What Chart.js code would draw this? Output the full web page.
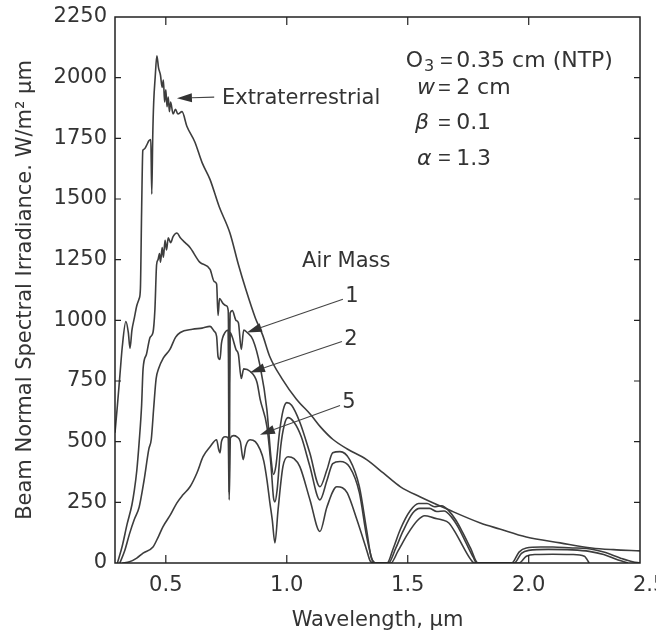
<!DOCTYPE html>
<html>
<head>
<meta charset="utf-8">
<script src="https://cdn.jsdelivr.net/npm/chart.js@4.4.1/dist/chart.umd.min.js"></script>
<style>
  html, body { margin: 0; padding: 0; background: #fff; }
  #wrap { width: 656px; height: 634px; }
</style>
</head>
<body>
<div id="wrap"><canvas id="spectrumChart" width="656" height="634"></canvas></div>
<script>
// Beam normal spectral irradiance, [wavelength um, W/m2 um]
const extraterrestrial = [
  [0.29, 537], [0.30, 650], [0.31, 770], [0.32, 890], [0.335, 995], [0.345, 950], [0.352, 885],
  [0.36, 960], [0.37, 1010], [0.38, 1060], [0.39, 1090], [0.395, 1130], [0.40, 1450], [0.405, 1700],
  [0.41, 1705], [0.42, 1720], [0.43, 1740], [0.438, 1745], [0.442, 1520], [0.446, 1760], [0.45, 1900],
  [0.456, 2000], [0.463, 2090], [0.47, 2040], [0.478, 2010], [0.485, 1960], [0.49, 1990], [0.495, 1900],
  [0.50, 1950], [0.505, 1880], [0.51, 1920], [0.515, 1860], [0.52, 1900], [0.53, 1850], [0.54, 1870],
  [0.55, 1850], [0.567, 1860], [0.587, 1800], [0.62, 1735], [0.65, 1650], [0.683, 1580], [0.72, 1470],
  [0.765, 1360], [0.80, 1230], [0.83, 1130], [0.87, 1010], [0.90, 940], [0.93, 850], [0.98, 760],
  [1.04, 675], [1.10, 610], [1.14, 560], [1.19, 510], [1.25, 470], [1.33, 426], [1.40, 370],
  [1.47, 314], [1.55, 273], [1.67, 219], [1.80, 165], [1.88, 140], [1.99, 107], [2.13, 83],
  [2.26, 62], [2.35, 55], [2.46, 50]
];

const airMass1 = [
  [0.30, 0], [0.32, 70], [0.34, 160], [0.36, 240], [0.37, 300], [0.38, 380], [0.39, 500], [0.40, 650],
  [0.406, 800], [0.42, 860], [0.435, 930], [0.447, 950], [0.455, 1045], [0.462, 1230], [0.468, 1250],
  [0.474, 1275], [0.478, 1240], [0.485, 1300], [0.49, 1260], [0.497, 1330], [0.503, 1290], [0.51, 1340],
  [0.52, 1320], [0.53, 1345], [0.546, 1360], [0.56, 1340], [0.58, 1320], [0.60, 1300], [0.64, 1240],
  [0.683, 1210], [0.70, 1160], [0.71, 1150], [0.716, 1020], [0.722, 1090], [0.736, 1070], [0.75, 1060],
  [0.758, 1040], [0.762, 700], [0.766, 1030], [0.775, 1040], [0.79, 1000], [0.80, 990], [0.812, 880],
  [0.822, 960], [0.836, 950], [0.86, 920], [0.89, 810], [0.918, 630], [0.935, 430], [0.945, 365],
  [0.955, 400], [0.97, 540], [0.985, 630], [1.00, 661], [1.02, 650], [1.054, 580], [1.095, 454],
  [1.137, 314], [1.166, 384], [1.19, 454], [1.22, 459], [1.26, 426], [1.30, 314], [1.33, 136],
  [1.35, 20], [1.37, 0], [1.415, 0], [1.44, 60], [1.47, 140], [1.51, 215], [1.545, 245], [1.58, 245],
  [1.61, 232], [1.64, 236], [1.67, 215], [1.70, 175], [1.73, 120], [1.76, 60], [1.79, 0], [1.93, 0],
  [1.96, 45], [1.99, 62], [2.05, 66], [2.10, 66], [2.18, 62], [2.24, 60], [2.31, 45], [2.38, 20],
  [2.43, 5], [2.46, 0]
];

const airMass2 = [
  [0.31, 0], [0.33, 50], [0.35, 120], [0.37, 180], [0.39, 231], [0.41, 340], [0.43, 470], [0.44, 510],
  [0.45, 640], [0.46, 760], [0.47, 800], [0.49, 845], [0.517, 880], [0.54, 930], [0.56, 950],
  [0.61, 963], [0.65, 968], [0.683, 975], [0.70, 955], [0.71, 934], [0.716, 850], [0.724, 839],
  [0.73, 905], [0.745, 950], [0.758, 960], [0.762, 290], [0.766, 950], [0.775, 930], [0.79, 880],
  [0.80, 860], [0.812, 760], [0.822, 800], [0.848, 790], [0.877, 744], [0.89, 674], [0.918, 562],
  [0.935, 400], [0.945, 270], [0.951, 252], [0.96, 300], [0.975, 480], [0.99, 570], [1.005, 599],
  [1.03, 580], [1.06, 520], [1.095, 400], [1.137, 260], [1.166, 340], [1.19, 410], [1.22, 418],
  [1.26, 395], [1.30, 290], [1.33, 110], [1.355, 10], [1.37, 0], [1.42, 0], [1.45, 60], [1.48, 130],
  [1.52, 205], [1.55, 225], [1.59, 225], [1.62, 212], [1.65, 214], [1.68, 190], [1.71, 145],
  [1.74, 85], [1.77, 25], [1.785, 0], [1.94, 0], [1.97, 40], [2.00, 52], [2.08, 56], [2.18, 54],
  [2.25, 48], [2.31, 35], [2.37, 12], [2.41, 0]
];

const airMass5 = [
  [0.32, 0], [0.35, 5], [0.38, 20], [0.406, 41], [0.447, 66], [0.47, 110], [0.488, 149], [0.52, 200],
  [0.546, 248], [0.57, 280], [0.60, 314], [0.629, 372], [0.654, 438], [0.683, 479], [0.71, 508],
  [0.718, 470], [0.724, 454], [0.73, 500], [0.745, 520], [0.758, 515], [0.762, 260], [0.767, 515],
  [0.78, 525], [0.794, 520], [0.808, 500], [0.82, 426], [0.83, 480], [0.848, 508], [0.87, 500],
  [0.89, 467], [0.905, 420], [0.918, 343], [0.93, 250], [0.94, 178], [0.951, 83], [0.964, 219],
  [0.984, 397], [1.005, 438], [1.03, 430], [1.054, 397], [1.096, 260], [1.137, 130], [1.166, 231],
  [1.207, 314], [1.23, 310], [1.25, 289], [1.29, 178], [1.33, 54], [1.344, 10], [1.36, 0], [1.43, 0],
  [1.46, 50], [1.50, 120], [1.54, 175], [1.57, 195], [1.61, 185], [1.64, 178], [1.67, 165],
  [1.70, 120], [1.73, 65], [1.76, 15], [1.775, 0], [1.96, 0], [1.99, 28], [2.03, 35], [2.10, 36],
  [2.18, 35], [2.23, 28], [2.25, 0]
];

const xTickValues = [0.5, 1.0, 1.5, 2.0, 2.5];
const curveColor = "#3d3d3d";
const textColor = "#333";
const fontFamily = "'DejaVu Sans', sans-serif";

function toXY(points) {
  return points.map(([x, y]) => ({ x, y }));
}

function curve(label, points) {
  return {
    label,
    data: toXY(points),
    borderColor: curveColor,
    borderWidth: 1.6,
    pointRadius: 0,
    fill: false,
    cubicInterpolationMode: "monotone",
  };
}

// arrow with a filled head, tail -> tip
function drawArrow(ctx, x1, y1, x2, y2) {
  const ang = Math.atan2(y2 - y1, x2 - x1);
  const head = 15, half = 4.5;
  const bx = x2 - head * Math.cos(ang), by = y2 - head * Math.sin(ang);
  ctx.beginPath();
  ctx.moveTo(x1, y1);
  ctx.lineTo(bx, by);
  ctx.stroke();
  ctx.beginPath();
  ctx.moveTo(x2, y2);
  ctx.lineTo(bx + half * Math.sin(ang), by - half * Math.cos(ang));
  ctx.lineTo(bx - half * Math.sin(ang), by + half * Math.cos(ang));
  ctx.closePath();
  ctx.fill();
}

const frameAndTicks = {
  id: "frameAndTicks",
  afterDraw(chart) {
    const { ctx, chartArea: a, scales: { x, y } } = chart;
    ctx.save();
    ctx.strokeStyle = "#222";
    ctx.lineWidth = 1.5;
    ctx.strokeRect(a.left, a.top, a.right - a.left, a.bottom - a.top);
    ctx.lineWidth = 1.2;
    ctx.beginPath();
    x.ticks.forEach((t) => {
      const px = x.getPixelForValue(t.value);
      if (px <= a.left || px >= a.right) return;
      ctx.moveTo(px, a.bottom); ctx.lineTo(px, a.bottom - 8);
      ctx.moveTo(px, a.top); ctx.lineTo(px, a.top + 8);
    });
    y.ticks.forEach((t) => {
      const py = y.getPixelForValue(t.value);
      if (py <= a.top || py >= a.bottom) return;
      ctx.moveTo(a.left, py); ctx.lineTo(a.left + 6, py);
      ctx.moveTo(a.right, py); ctx.lineTo(a.right - 6, py);
    });
    ctx.stroke();
    ctx.restore();
  },
};

const callouts = {
  id: "callouts",
  afterDatasetsDraw(chart) {
    const { ctx, scales: { x, y } } = chart;
    const px = (v) => x.getPixelForValue(v);
    const py = (v) => y.getPixelForValue(v);
    ctx.save();
    ctx.fillStyle = textColor;
    ctx.strokeStyle = "#444";
    ctx.lineWidth = 1.1;
    ctx.textBaseline = "middle";
    ctx.font = "21px " + fontFamily;

    // Extraterrestrial label
    drawArrow(ctx, px(0.70), py(1920), px(0.546), py(1915));
    ctx.fillText("Extraterrestrial", px(0.732), py(1913));

    // Air mass labels with leader arrows
    ctx.fillText("Air Mass", px(1.063), py(1244));
    drawArrow(ctx, px(1.232), py(1087), px(0.835), py(950));
    drawArrow(ctx, px(1.228), py(913), px(0.848), py(785));
    drawArrow(ctx, px(1.22), py(649), px(0.889), py(529));
    ctx.textAlign = "center";
    ctx.fillText("1", px(1.269), py(1099));
    ctx.fillText("2", px(1.265), py(921));
    ctx.fillText("5", px(1.257), py(661));

    // model parameters
    ctx.textAlign = "left";
    const eqX = px(1.625), valX = px(1.70);
    const rows = [py(2066), py(1955), py(1810), py(1665)];
    ctx.font = "22px " + fontFamily;
    ctx.fillText("O", px(1.492), rows[0]);
    const oW = ctx.measureText("O").width;
    ctx.font = "16px " + fontFamily;
    ctx.fillText("3", px(1.492) + oW + 1, rows[0] + 5);
    ctx.font = "italic 22px " + fontFamily;
    ctx.fillText("w", px(1.538), rows[1]);
    ctx.fillText("β", px(1.530), rows[2]);
    ctx.fillText("α", px(1.538), rows[3]);
    ctx.font = "22px 'Liberation Sans', sans-serif";
    rows.forEach((r, i) => ctx.fillText("=", eqX + (i === 0 ? 2 : 0), r));
    ctx.font = "22px " + fontFamily;
    ctx.fillText("0.35 cm (NTP)", valX, rows[0]);
    ctx.fillText("2 cm", valX, rows[1]);
    ctx.fillText("0.1", valX, rows[2]);
    ctx.fillText("1.3", valX, rows[3]);
    ctx.restore();
  },
};

const ctx = document.getElementById("spectrumChart").getContext("2d");
const spectrumChart = new Chart(ctx, {
  type: "line",
  data: {
    datasets: [
      curve("Extraterrestrial", extraterrestrial),
      curve("Air Mass 1", airMass1),
      curve("Air Mass 2", airMass2),
      curve("Air Mass 5", airMass5),
    ],
  },
  options: {
    responsive: false,
    animation: false,
    devicePixelRatio: 1,
    layout: { padding: { top: 17, right: 16, left: 0, bottom: 0 } },
    plugins: { legend: { display: false }, tooltip: { enabled: false } },
    scales: {
      x: {
        type: "linear",
        min: 0.29,
        max: 2.46,
        grid: { display: false, drawTicks: false },
        border: { display: false },
        afterBuildTicks: (scale) => {
          scale.ticks = xTickValues.map((v) => ({ value: v }));
        },
        afterFit: (scale) => {
          scale.height = 71;
          scale.paddingLeft = 0;
          scale.paddingRight = 0;
        },
        ticks: {
          autoSkip: false,
          maxRotation: 0,
          padding: 10,
          color: textColor,
          font: { family: fontFamily, size: 21 },
          callback: (v) => Number(v).toFixed(1),
        },
        title: {
          display: true,
          text: "Wavelength, μm",
          color: textColor,
          font: { family: fontFamily, size: 21 },
          padding: { top: 0, bottom: 1 },
        },
      },
      y: {
        min: 0,
        max: 2250,
        grid: { display: false, drawTicks: false },
        border: { display: false },
        afterFit: (scale) => {
          scale.width = 115;
          scale.paddingTop = 0;
          scale.paddingBottom = 0;
        },
        ticks: {
          stepSize: 250,
          padding: 8,
          color: textColor,
          font: { family: fontFamily, size: 21 },
          callback: (v) => String(v),
        },
        title: {
          display: true,
          text: "Beam Normal Spectral Irradiance. W/m² μm",
          color: textColor,
          font: { family: fontFamily, size: 21 },
          padding: { top: 13, bottom: 0 },
        },
      },
    },
  },
  plugins: [callouts, frameAndTicks],
});
</script>
</body>
</html>
